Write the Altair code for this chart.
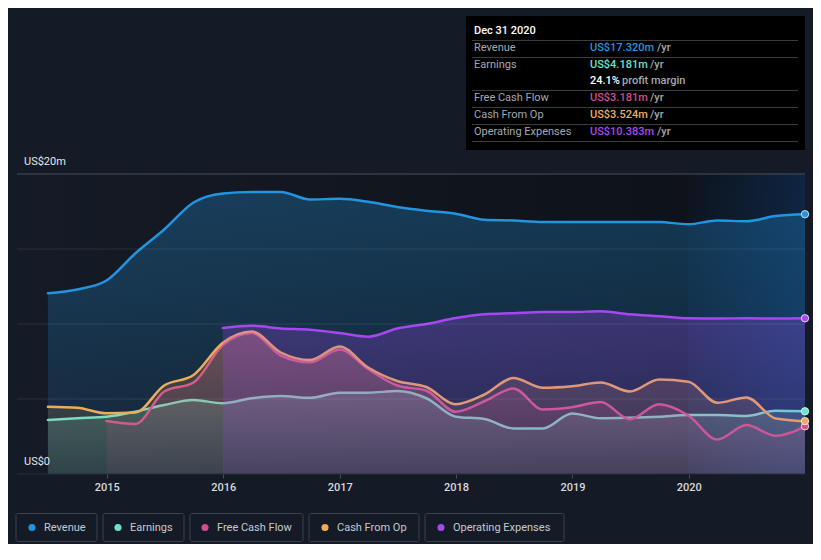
import altair as alt
import pandas as pd

# ---------------- data (US$ millions, trailing twelve months) ----------------
dates = ["2014-06-30", "2014-09-30", "2014-12-31", "2015-03-31", "2015-06-30", "2015-09-30",
         "2015-12-31", "2016-03-31", "2016-06-30", "2016-09-30", "2016-12-31", "2017-03-31",
         "2017-06-30", "2017-09-30", "2017-12-31", "2018-03-31", "2018-06-30", "2018-09-30",
         "2018-12-31", "2019-03-31", "2019-06-30", "2019-09-30", "2019-12-31", "2020-03-31",
         "2020-06-30", "2020-09-30", "2020-12-31"]
revenue = [12.05, 12.3, 12.9, 14.7, 16.3, 18.1, 18.7, 18.8, 18.8, 18.3, 18.35, 18.15, 17.8, 17.55,
           17.35, 16.95, 16.9, 16.8, 16.8, 16.8, 16.8, 16.8, 16.65, 16.9, 16.85, 17.2, 17.32]
earnings = [3.6, 3.72, 3.82, 4.15, 4.6, 4.93, 4.72, 5.05, 5.2, 5.08, 5.42, 5.42, 5.53, 5.05,
            3.82, 3.67, 3.04, 3.04, 4.04, 3.71, 3.75, 3.82, 3.93, 3.93, 3.87, 4.22, 4.181]
free_cash_flow = [None, None, 3.53, 3.33, 5.5, 6.1, 8.6, 9.4, 7.9, 7.45, 8.3, 7.0, 5.9, 5.55,
                  4.15, 4.85, 5.7, 4.3, 4.45, 4.8, 3.65, 4.65, 3.9, 2.3, 3.27, 2.55, 3.181]
cash_from_op = [4.49, 4.42, 4.05, 4.1, 5.9, 6.6, 8.75, 9.5, 8.1, 7.6, 8.5, 7.1, 6.2, 5.8,
                4.65, 5.3, 6.4, 5.75, 5.85, 6.1, 5.5, 6.3, 6.15, 4.75, 5.1, 3.7, 3.524]
operating_expenses = [None, None, None, None, None, None, 9.73, 9.88, 9.7, 9.62, 9.4, 9.15,
                      9.7, 10.0, 10.4, 10.65, 10.72, 10.8, 10.8, 10.85, 10.65, 10.52, 10.38,
                      10.37, 10.38, 10.37, 10.383]

series_names = ["Revenue", "Earnings", "Free Cash Flow", "Cash From Op", "Operating Expenses"]
series_colors = ["#2394df", "#6ce3cc", "#d14d90", "#eeac5a", "#a648f0"]
series_rgb = [(35, 148, 223), (108, 227, 204), (209, 77, 144), (238, 172, 90), (166, 72, 240)]
series_values = [revenue, earnings, free_cash_flow, cash_from_op, operating_expenses]

tooltip_date = "Dec 31 2020"
tooltip_labels = ["Revenue", "Earnings", "Free Cash Flow", "Cash From Op", "Operating Expenses"]
tooltip_values = ["US$17.320m", "US$4.181m", "US$3.181m", "US$3.524m", "US$10.383m"]
profit_margin = "24.1%"

year_ticks = [2015, 2016, 2017, 2018, 2019, 2020]
y_labels = [(20, "US$20m"), (0, "US$0")]

BG = "#151b26"
FONT = "Roboto"

# ---------------- scales ----------------
x_scale = alt.Scale(domain=[alt.DateTime(year=2014, month=3, date=25),
                            alt.DateTime(year=2020, month=12, date=31)])
y_scale = alt.Scale(domain=[0, 20], nice=False, zero=True)

x_axis = alt.Axis(title=None, format="%Y", grid=False, domain=False,
                  values=[alt.DateTime(year=y, month=1, date=1) for y in year_ticks],
                  tickColor="#4a505a", tickSize=4, labelColor="#d8dadd", labelFontSize=11,
                  labelFont=FONT, labelFontWeight=500, labelPadding=3)
y_axis = alt.Axis(title=None, labels=False, ticks=False, grid=False, domain=False)


def sdf(vals):
    rows = [(pd.Timestamp(d), v) for d, v in zip(dates, vals) if v is not None]
    return pd.DataFrame(rows, columns=["date", "value"])


X = alt.X("date:T", scale=x_scale, axis=x_axis)
Y = alt.Y("value:Q", scale=y_scale, axis=y_axis)

layers = []

# background regions
bg_df = pd.DataFrame({"start": [pd.Timestamp("2014-03-25")], "end": [pd.Timestamp("2019-12-31")]})
hl_df = pd.DataFrame({"start": [pd.Timestamp("2019-12-31")], "end": [pd.Timestamp("2020-12-31")]})
layers.append(alt.Chart(bg_df).mark_rect(
    color=alt.Gradient(gradient="linear", x1=0, x2=1, y1=0, y2=0,
                       stops=[alt.GradientStop(offset=0, color="rgba(8,10,14,0)"),
                              alt.GradientStop(offset=1, color="rgba(8,10,14,0.55)")])
).encode(x=alt.X("start:T", scale=x_scale, axis=x_axis), x2="end:T",
         y=alt.datum(20, scale=y_scale), y2=alt.datum(0)))
layers.append(alt.Chart(hl_df).mark_rect(
    color=alt.Gradient(gradient="linear", x1=0, x2=1, y1=0, y2=0.3,
                       stops=[alt.GradientStop(offset=0, color="#0d141e"),
                              alt.GradientStop(offset=1, color="#0f2644")])
).encode(x=alt.X("start:T", scale=x_scale, axis=x_axis), x2="end:T",
         y=alt.datum(20, scale=y_scale), y2=alt.datum(0)))

area_alpha = {"Revenue": (0.30, 0.10), "Earnings": (0.22, 0.10), "Free Cash Flow": (0.25, 0.08),
              "Cash From Op": (0.22, 0.08), "Operating Expenses": (0.28, 0.12)}

for name, col, rgb, vals in zip(series_names, series_colors, series_rgb, series_values):
    d = sdf(vals)
    a0, a1 = area_alpha[name]
    grad = alt.Gradient(gradient="linear", x1=0, x2=0, y1=0, y2=1,
                        stops=[alt.GradientStop(offset=0, color=f"rgba({rgb[0]},{rgb[1]},{rgb[2]},{a0})"),
                               alt.GradientStop(offset=1, color=f"rgba({rgb[0]},{rgb[1]},{rgb[2]},{a1})")])
    layers.append(alt.Chart(d).mark_area(color=grad, interpolate="monotone").encode(
        x=X, y=Y, y2=alt.datum(0)))
    layers.append(alt.Chart(d).mark_line(color=col, strokeWidth=2.5, interpolate="monotone",
                                         strokeCap="round").encode(x=X, y=Y))

# grid lines
grid_df = pd.DataFrame({"value": [5, 10, 15]})
layers.append(alt.Chart(grid_df).mark_rule(color="rgba(255,255,255,0.09)", strokeWidth=1).encode(y=Y))
edge_df = pd.DataFrame({"value": [20]})
layers.append(alt.Chart(edge_df).mark_rule(color="#4a505a", strokeWidth=1).encode(y=Y))
base_df = pd.DataFrame({"value": [0]})
layers.append(alt.Chart(base_df).mark_rule(color="#2a303b", strokeWidth=1).encode(y=Y))

# end dots
for col, vals in zip(series_colors, series_values):
    d = sdf(vals).tail(1)
    layers.append(alt.Chart(d).mark_point(filled=True, fill=col, size=55, opacity=1,
                                          stroke="rgba(255,255,255,0.75)", strokeWidth=1).encode(x=X, y=Y))

# y labels
for val, txt in y_labels:
    d = pd.DataFrame({"value": [val], "t": [txt]})
    layers.append(alt.Chart(d).mark_text(align="left", baseline="middle", dy=-12, fontSize=11,
                                         font=FONT, color="#e4e6ea").encode(
        x=alt.value(7), y=Y, text="t:N"))

# ---------------- tooltip box ----------------
one = pd.DataFrame({"k": [0]})


def txt(x, y, s, color, weight="normal", size=11):
    return alt.Chart(one).mark_text(align="left", baseline="middle", font=FONT, fontSize=size,
                                    fontWeight=weight, color=color, text=s).encode(
        x=alt.value(x), y=alt.value(y))


layers.append(alt.Chart(one).mark_rect(color="#000000").encode(
    x=alt.value(449), x2=alt.value(788), y=alt.value(-158), y2=alt.value(-24)))
for yy in [-133.5, -116.5, -83.5, -66.5, -49.5, -32.5]:
    layers.append(alt.Chart(one).mark_rule(color="#3c3c3c", strokeWidth=1).encode(
        x=alt.value(455), x2=alt.value(781), y=alt.value(yy)))
layers.append(txt(457, -143, tooltip_date, "#ffffff", 500))
row_y = [-126, -109, -76, -59, -42]
yr_x = [640, 633, 633, 633, 640]
for lab, val, col, yy, xx in zip(tooltip_labels, tooltip_values, series_colors, row_y, yr_x):
    layers.append(txt(457, yy, lab, "#a3a8b0"))
    layers.append(txt(573, yy, val, col, 500))
    layers.append(txt(xx, yy, "/yr", "#a3a8b0", 500))
layers.append(txt(573, -93, profit_margin, "#ffffff", 500))
layers.append(txt(605, -93, "profit margin", "#a3a8b0", 500))

# ---------------- legend ----------------
legend_box_x = [(-1, 80), (86, 167), (173, 286), (292, 402), (408, 547)]
legend_dot_x = [15, 101, 188, 308, 424]
legend_text_x = [27, 113, 200, 320, 436]
for name, col, (bx0, bx1), dx, tx in zip(series_names, series_colors, legend_box_x,
                                         legend_dot_x, legend_text_x):
    layers.append(alt.Chart(one).mark_rect(fill=BG, stroke="#3b414d", strokeWidth=1,
                                           cornerRadius=2).encode(
        x=alt.value(bx0), x2=alt.value(bx1), y=alt.value(339.5), y2=alt.value(367.5)))
    layers.append(alt.Chart(one).mark_point(filled=True, fill=col, size=50, opacity=1,
                                            strokeWidth=0).encode(x=alt.value(dx), y=alt.value(353.5)))
    layers.append(txt(tx, 353.5, name, "#c5c9cf"))

chart = alt.layer(*layers).properties(
    width=788, height=300,
    padding={"left": 9, "top": 166, "right": 8, "bottom": 70},
    autosize=alt.AutoSizeParams(type="none"),
    background=BG,
).configure_view(strokeWidth=0)

chart.save("out.html", embed_options={"renderer": "svg", "actions": False})
